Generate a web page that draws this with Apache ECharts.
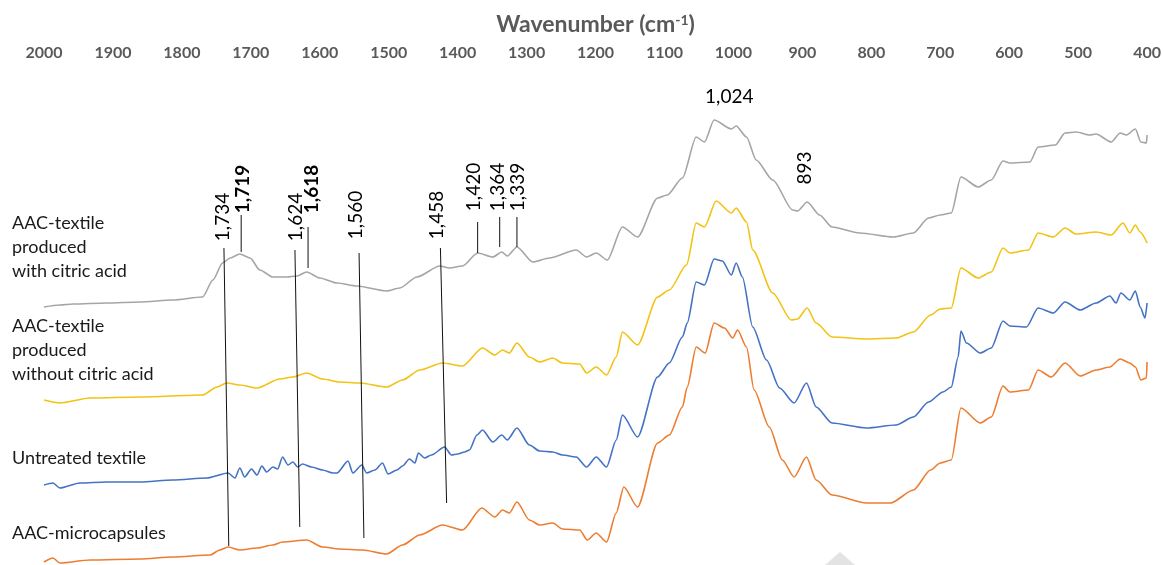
<!DOCTYPE html>
<html>
<head>
<meta charset="utf-8">
<script src="https://cdn.jsdelivr.net/npm/echarts@6/dist/echarts.min.js"></script>
<style>
html,body{margin:0;padding:0;background:#fff;}
#chart{width:1164px;height:565px;}
</style>
</head>
<body>
<div id="chart"></div>
<script>
// ---- data (wavenumber cm-1, relative absorbance with vertical offsets) ----
const seriesNames = ['AAC-textile produced with citric acid', 'AAC-textile produced without citric acid', 'Untreated textile', 'AAC-microcapsules'];
const seriesColors = ['#A5A5A5', '#F2C314', '#4472C4', '#ED7D31'];

const withCitric = [[2000,258],[1977,260],[1958,261],[1909,262],[1861,263],[1813,265],[1770,268],[1755,285],[1741,302],[1730,307],[1716,311],[1701,307],[1687,295],[1668,288],[1648,288],[1633,289],[1619,293],[1600,287],[1575,282],[1546,279],[1503,274],[1484,277],[1459,288],[1426,299],[1412,297],[1393,299],[1371,312],[1349,308],[1336,313],[1328,309],[1314,318],[1291,303],[1267,307],[1228,315],[1213,308],[1199,312],[1183,305],[1161,338],[1139,328],[1110,367],[1096,370],[1074,387],[1054,428],[1042,423],[1028,445],[1003,436],[996,439],[981,428],[967,405],[943,385],[914,355],[907,354],[893,363],[875,350],[857,338],[817,332],[768,328],[739,332],[717,347],[700,350],[684,352],[670,388],[645,378],[626,385],[609,404],[599,402],[570,403],[558,418],[533,420],[519,432],[503,433],[483,430],[474,431],[452,423],[439,432],[430,430],[417,436],[409,423],[401,422],[400,430]];

const withoutCitric = [[2000,165],[1977,162],[1933,167],[1861,168],[1770,170],[1749,178],[1735,182],[1716,180],[1691,177],[1658,186],[1639,188],[1619,192],[1596,186],[1571,183],[1542,182],[1503,178],[1480,185],[1455,195],[1422,202],[1393,199],[1364,217],[1346,210],[1335,215],[1325,212],[1314,222],[1296,208],[1281,203],[1262,207],[1248,202],[1223,201],[1213,192],[1199,198],[1184,190],[1170,208],[1161,233],[1139,220],[1110,268],[1093,275],[1068,300],[1054,342],[1042,338],[1025,364],[1003,352],[996,357],[981,343],[972,315],[943,272],[916,245],[907,246],[893,257],[880,242],[857,228],[807,226],[764,227],[739,233],[714,250],[700,256],[684,257],[670,297],[645,287],[626,293],[609,317],[599,312],[572,315],[558,332],[536,328],[519,337],[503,331],[474,333],[452,330],[435,342],[425,332],[417,340],[410,333],[400,322]];

const untreated = [[2000,80],[1987,82],[1977,77],[1948,82],[1909,83],[1861,83],[1813,85],[1764,87],[1733,92],[1723,87],[1716,97],[1709,88],[1699,96],[1691,90],[1684,99],[1677,93],[1668,98],[1661,96],[1654,108],[1646,100],[1639,103],[1632,98],[1625,101],[1612,98],[1596,95],[1581,92],[1575,92],[1559,104],[1552,92],[1539,100],[1532,92],[1520,95],[1509,102],[1501,91],[1488,95],[1480,99],[1470,106],[1462,102],[1457,112],[1448,107],[1438,110],[1419,118],[1409,110],[1400,111],[1390,113],[1383,115],[1372,130],[1364,135],[1349,123],[1336,130],[1328,125],[1314,137],[1296,120],[1281,114],[1262,113],[1248,110],[1228,108],[1213,98],[1199,108],[1184,98],[1170,125],[1161,150],[1139,128],[1110,188],[1093,202],[1074,228],[1067,242],[1054,283],[1042,280],[1028,306],[1016,304],[1003,290],[996,302],[987,288],[972,238],[952,205],[933,177],[912,162],[894,182],[880,158],[857,142],[807,137],[764,140],[739,148],[717,163],[696,173],[684,178],[674,208],[670,234],[662,222],[642,212],[626,217],[609,244],[599,239],[575,238],[558,257],[536,252],[519,263],[497,255],[474,262],[454,269],[445,262],[438,272],[425,265],[417,274],[410,258],[403,247],[400,262]];

const microcapsules = [[2000,3],[1987,7],[1977,2],[1933,5],[1861,6],[1813,8],[1759,10],[1745,15],[1733,18],[1716,15],[1691,17],[1668,20],[1654,23],[1619,25],[1596,18],[1571,16],[1538,15],[1503,11],[1480,20],[1455,30],[1422,40],[1393,35],[1365,57],[1346,48],[1335,55],[1325,52],[1314,63],[1296,45],[1281,40],[1262,42],[1248,36],[1223,35],[1212,25],[1199,32],[1184,23],[1170,52],[1159,78],[1139,58],[1110,122],[1093,130],[1074,158],[1067,178],[1054,218],[1041,212],[1028,242],[1013,237],[1001,227],[994,235],[981,218],[970,175],[948,138],[929,105],[912,88],[894,108],[880,85],[857,70],[807,62],[772,62],[739,75],[714,95],[700,102],[684,105],[670,157],[642,142],[626,148],[609,179],[599,173],[572,175],[558,195],[539,188],[519,202],[497,189],[474,195],[454,198],[439,206],[425,202],[417,198],[409,185],[401,187],[400,203]];

// peak annotations
const peakLabels = ['1,734','1,719','1,624','1,618','1,560','1,458','1,420','1,364','1,339','893'];
const peakLabelPos = [[1740,348],[1711,376],[1634,348],[1612,376],[1547,350],[1430,350],[1376,378],[1342,378],[1313,378],[896,397]];
const peakLabelBold = [false,true,false,true,false,false,false,false,false,false];
const peakLineStart = [[1739,317],[1714,350],[1636,315],[1617,338],[1543,312],[1425,317],[1371,343],[1339,348],[1314,348]];
const peakLineEnd = [[1732,19],[1714,313],[1629,38],[1617,297],[1536,27],[1416,62],[1371,312],[1339,318],[1314,318]];
const topPeakLabel = ['1,024'];
const topPeakPos = [[1006,468]];

const sideLabels = ['AAC-textile\nproduced\nwith citric acid', 'AAC-textile\nproduced\nwithout citric acid', 'Untreated textile', 'AAC-microcapsules'];

// ---- chart ----
const FONT = 'Lato';
const chart = echarts.init(document.getElementById('chart'), null, {renderer: 'canvas'});
const allData = [withCitric, withoutCitric, untreated, microcapsules];

const series = [];
allData.forEach((d, i) => {
  series.push({
    name: seriesNames[i], type: 'line', data: d, symbol: 'none', silent: true,
    smooth: 0.25, smoothMonotone: 'x',
    lineStyle: {color: seriesColors[i], width: 1.6}, z: 3, animation: false
  });
});
peakLineStart.forEach((p, i) => {
  series.push({
    type: 'line', data: [p, peakLineEnd[i]], symbol: 'none', silent: true,
    lineStyle: {color: '#111', width: 1}, z: 4, animation: false
  });
});
series.push({
  type: 'scatter', symbolSize: 2, itemStyle: {color: 'rgba(255,255,255,0)'}, silent: true, animation: false,
  data: peakLabelPos.map((p, i) => ({
    value: p,
    label: {
      show: true, position: 'inside', rotate: 90, formatter: peakLabels[i],
      fontFamily: FONT, fontSize: 19, color: '#000', opacity: 1,
      textBorderWidth: 0,
      fontWeight: peakLabelBold[i] ? 'bold' : 'normal',
      align: 'center', verticalAlign: 'middle'
    }
  })),
  z: 5
});
series.push({
  type: 'scatter', symbolSize: 2, itemStyle: {color: 'rgba(255,255,255,0)'}, silent: true, animation: false,
  data: topPeakPos.map((p, i) => ({
    value: p,
    label: {show: true, position: 'inside', formatter: topPeakLabel[i], fontFamily: FONT, fontSize: 19,
      color: '#000', opacity: 1, textBorderWidth: 0}
  })),
  z: 5
});

const sideTop = [211, 314, 446, 521];
const graphics = sideLabels.map((t, i) => ({
  type: 'text', left: 12, top: sideTop[i], silent: true,
  style: {text: t, fontFamily: FONT, fontSize: 18, lineHeight: 24, fill: '#1a1a1a'}
}));
graphics.push({
  type: 'polygon', silent: true,
  shape: {points: [[825, 565], [840, 552], [855, 565]]},
  style: {fill: '#e3e3e3'}
});

chart.setOption({
  animation: false,
  backgroundColor: '#fff',
  grid: {left: 44, right: 16, top: 75, bottom: 0, containLabel: false},
  xAxis: {
    type: 'value', position: 'top', inverse: true, min: 400, max: 2000, interval: 100,
    name: 'Wavenumber (cm{sup|-1})', nameLocation: 'middle', nameGap: 39,
    nameTextStyle: {
      fontFamily: FONT, fontSize: 23, fontWeight: 'bold', color: '#595959',
      rich: {sup: {fontFamily: FONT, fontSize: 14, fontWeight: 'bold', color: '#595959', verticalAlign: 'top', padding: [0, 0, 9, 0]}}
    },
    axisLine: {show: true, lineStyle: {color: '#d9d9d9', width: 1}},
    axisTick: {show: false},
    splitLine: {show: false},
    axisLabel: {fontFamily: FONT, fontSize: 16, fontWeight: 'bold', color: '#595959', margin: 14,
      formatter: v => String(v)}
  },
  yAxis: {type: 'value', min: 0, max: 490, show: false},
  series: series,
  graphic: graphics
});
</script>
</body>
</html>
